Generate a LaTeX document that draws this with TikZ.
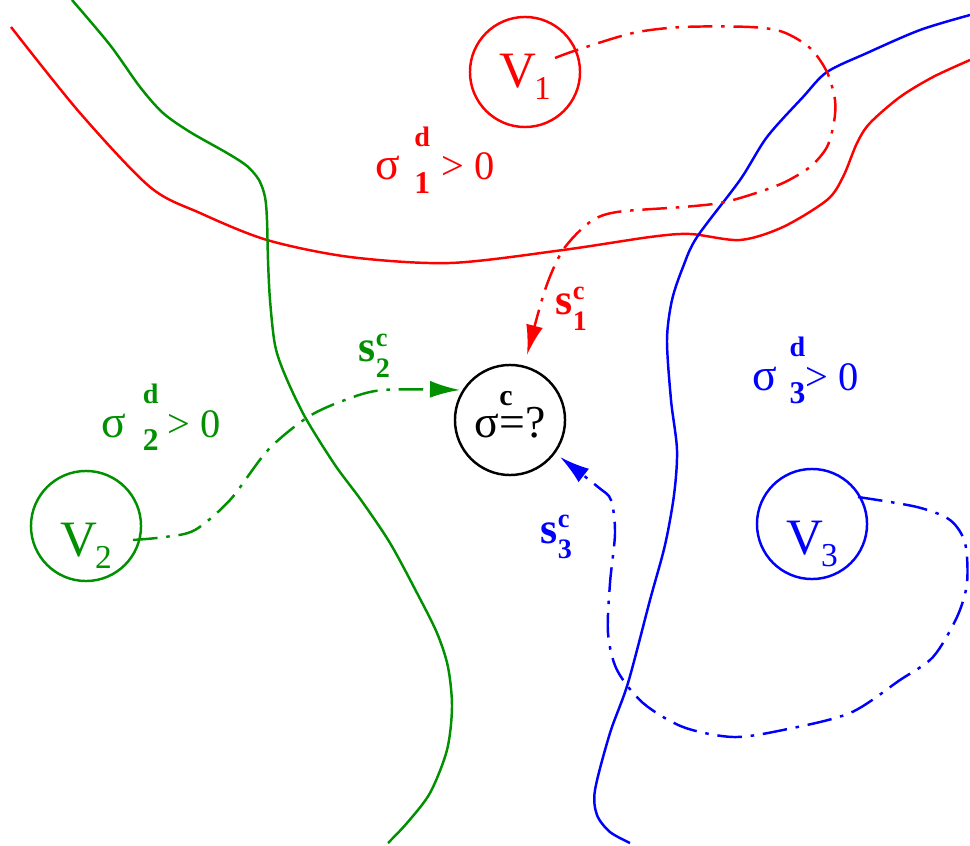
\documentclass[tikz,border=0pt]{standalone}
\usepackage{fontspec}
\setmainfont{Liberation Serif}
\usetikzlibrary{arrows.meta}
\definecolor{figgreen}{RGB}{0,144,0}
% sigma^d_i > 0 with the gaps before and after the indices
\newcommand{\sigmad}[3]{{\fontsize{13}{14}\selectfont σ}\hspace{#2}\rlap{\raisebox{9.4pt}{\fontsize{8}{8}\bfseries d}}\raisebox{-3.7pt}{\fontsize{9}{9}\bfseries #1}\hspace{#3}> 0}
\newcommand{\sflux}[1]{{\fontsize{12.5}{14}\bfseries s}\rlap{\raisebox{4.3pt}{\fontsize{7.5}{8}\bfseries c}}\raisebox{-4.3pt}{\fontsize{8}{9}\bfseries #1}}
\newcommand{\vlab}[1]{V\kern-0.5pt\raisebox{-3.4pt}{\fontsize{9.5}{10}\selectfont #1}}
\tikzset{
  region/.style={circle, draw, line width=0.7pt, minimum size=1.1cm, inner sep=0pt, font=\fontsize{14.5}{16}\selectfont},
  boundary/.style={line width=0.7pt},
  flux/.style={line width=0.7pt, dash pattern=on 7pt off 2.5pt on 1pt off 2.5pt, -{Latex[length=3mm,width=1.7mm]}},
  lab/.style={anchor=base west, inner sep=0pt},
}
\begin{document}
\begin{tikzpicture}[x=0.01cm, y=-0.01cm]
\useasboundingbox (0,0) rectangle (970,846);
% Boundaries
\draw[boundary, red] plot[smooth] coordinates {(11,27) (80,113) (150,187) (200,213) (267,240) (350,257) (450,263) (563,250) (650,237) (690,234) (740,240) (783,227) (827,200) (843,177) (857,143) (870,123) (900,97) (933,77) (970,60)};
\draw[boundary, figgreen] plot[smooth] coordinates {(72,0) (110,45) (140,87) (163,113) (190,132) (227,153) (247,166) (259,180) (265,197) (267,220) (268,260) (270,300) (275,345) (285,375) (305,417) (335,465) (361,500) (390,543) (417,593) (437,633) (448,667) (452,707) (447,750) (430,793) (407,823) (388,843)};
\draw[boundary, blue] plot[smooth] coordinates {(970,15) (920,30) (867,53) (827,72) (803,97) (767,137) (740,180) (697,237) (683,267) (672,300) (667,340) (671,400) (677,450) (674,495) (665,545) (650,600) (628,683) (610,733) (595,790) (597,815) (610,832) (630,843)};
% Regions
\node[region, red, text height=12.4pt, text depth=3.4pt] (v1) at (525,72) {\vlab{1}};
\node[region, figgreen, text height=21pt, text depth=3.4pt] (v2) at (86,526) {\vlab{2}};
\node[region, blue, text height=21pt, text depth=3.4pt] (v3) at (812,524) {\vlab{3}};
\node[region, black, font=\fontsize{13}{14}\selectfont, text height=9.7pt, text depth=0pt] (sc) at (510,420) {σ\rlap{\smash{\raisebox{9pt}{\fontsize{8.5}{9}\bfseries c}}}=?};
% Fluxes
\draw[flux, red] plot[smooth] coordinates {([shift={(30,-14)}]v1.center) (577,50) (633,33) (683,27) (750,27) (783,32) (810,48) (827,72) (835,100) (834,122) (827,147) (810,167) (783,183) (750,195) (720,203) (683,207) (617,212) (590,222) (563,250) (545,290) ([shift={(17,-65)}]sc.center)};
\draw[flux, figgreen] plot[smooth] coordinates {([shift={(47,14)}]v2.center) (165,537) (195,530) (230,500) (268,450) (308,417) (345,400) (383,390) ([shift={(-50,-30)}]sc.center)};
\draw[flux, blue] plot[smooth] coordinates {([shift={(46,-27)}]v3.center) (917,507) (950,520) (965,543) (967,583) (957,617) (933,657) (900,680) (850,713) (783,730) (733,737) (683,727) (643,703) (617,670) (608,633) (610,583) (615,533) (611,500) (598,487) ([shift={(50,37)}]sc.center)};
% Labels
\node[lab, red, font=\fontsize{11.5}{12}\selectfont] (d1) at (375,180) {\sigmad{1}{4pt}{3.2pt}};
\node[lab, figgreen, font=\fontsize{11.5}{12}\selectfont] (d2) at (101,437) {\sigmad{2}{4.7pt}{2.5pt}};
\node[lab, blue, font=\fontsize{11.5}{12}\selectfont] (d3) at (752,390) {\sigmad{3}{3.5pt}{0pt}};
\node[lab, red] (s1) at (555,315) {\sflux{1}};
\node[lab, figgreen] (s2) at (358,362) {\sflux{2}};
\node[lab, blue] (s3) at (540,543) {\sflux{3}};
\end{tikzpicture}
\end{document}
